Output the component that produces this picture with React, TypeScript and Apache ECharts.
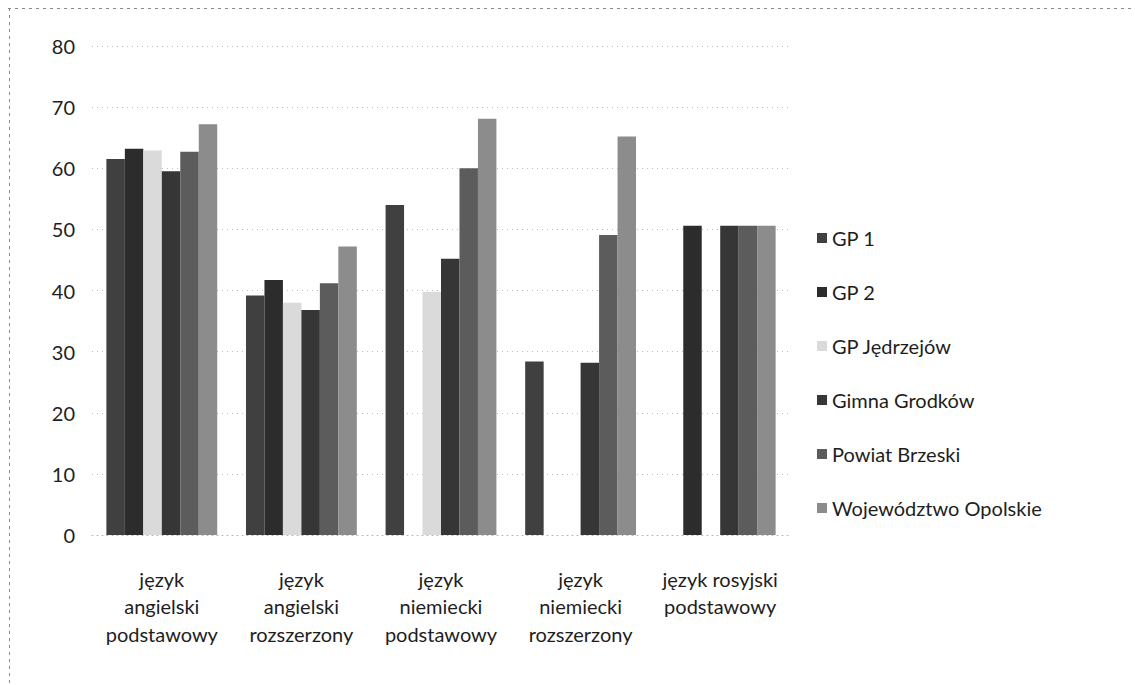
import React, { useEffect, useRef } from "react";
import * as echarts from "echarts";

const categories = [
  "język\nangielski\npodstawowy",
  "język\nangielski\nrozszerzony",
  "język\nniemiecki\npodstawowy",
  "język\nniemiecki\nrozszerzony",
  "język rosyjski\npodstawowy",
];

const seriesNames = [
  "GP 1",
  "GP 2",
  "GP Jędrzejów",
  "Gimna Grodków",
  "Powiat Brzeski",
  "Województwo Opolskie",
];

const gp1 = [61.5, 39.2, 54.0, 28.4, null];
const gp2 = [63.2, 41.7, null, null, 50.6];
const gpJedrzejow = [62.9, 38.0, 39.8, null, null];
const gimnaGrodkow = [59.5, 36.8, 45.2, 28.2, 50.6];
const powiatBrzeski = [62.7, 41.2, 60.0, 49.1, 50.6];
const wojewodztwoOpolskie = [67.2, 47.2, 68.1, 65.2, 50.6];

const seriesValues = [gp1, gp2, gpJedrzejow, gimnaGrodkow, powiatBrzeski, wojewodztwoOpolskie];
const seriesColors = ["#404040", "#2c2c2c", "#dadada", "#363636", "#5c5c5c", "#8c8c8c"];

const yTicks = { min: 0, max: 80, interval: 10 };

const FONT = "Lato, 'Open Sans', sans-serif";

export default function App() {
  const ref = useRef<HTMLDivElement>(null);
  useEffect(() => {
    if (!ref.current) return;
    const chart = echarts.init(ref.current, undefined, { renderer: "svg" });
    chart.setOption({
      animation: false,
      backgroundColor: "#ffffff",
      textStyle: { fontFamily: FONT },
      grid: { left: 92, right: 345, top: 46, bottom: 150, containLabel: false },
      legend: {
        orient: "vertical",
        left: 812,
        top: 223,
        itemWidth: 10,
        itemHeight: 10,
        itemGap: 34,
        icon: "rect",
        data: seriesNames,
        textStyle: { fontFamily: FONT, fontSize: 20, color: "#1e1e1e", lineHeight: 20 },
      },
      xAxis: {
        type: "category",
        data: categories,
        axisTick: { show: false },
        axisLine: { show: true, lineStyle: { color: "#b5b5b5", type: [1, 4], width: 1 } },
        axisLabel: {
          interval: 0,
          margin: 30,
          fontFamily: FONT,
          fontSize: 20,
          lineHeight: 27.5,
          color: "#1e1e1e",
          align: "center",
        },
      },
      yAxis: {
        type: "value",
        min: yTicks.min,
        max: yTicks.max,
        interval: yTicks.interval,
        axisLine: { show: false },
        axisTick: { show: false },
        axisLabel: { margin: 17, fontFamily: FONT, fontSize: 20, color: "#1e1e1e" },
        splitLine: { show: true, lineStyle: { color: "#bdbdbd", type: [1, 4], width: 1 } },
      },
      series: seriesNames.map((name, i) => ({
        name,
        type: "bar",
        data: seriesValues[i],
        barGap: "0%",
        barCategoryGap: "20.6%",
        itemStyle: { color: seriesColors[i] },
      })),
      graphic: [
        {
          type: "line",
          shape: { x1: 8, y1: 8.5, x2: 1135, y2: 8.5 },
          style: { stroke: "#8a8a8a", lineWidth: 1, lineDash: [3, 4] },
        },
        {
          type: "line",
          shape: { x1: 9.5, y1: 8, x2: 9.5, y2: 685 },
          style: { stroke: "#8a8a8a", lineWidth: 1, lineDash: [3, 4] },
        },
      ],
    });
    return () => chart.dispose();
  }, []);
  return (
    <div
      ref={ref}
      style={{ position: "fixed", left: 0, top: 0, width: 1135, height: 685 }}
    />
  );
}
